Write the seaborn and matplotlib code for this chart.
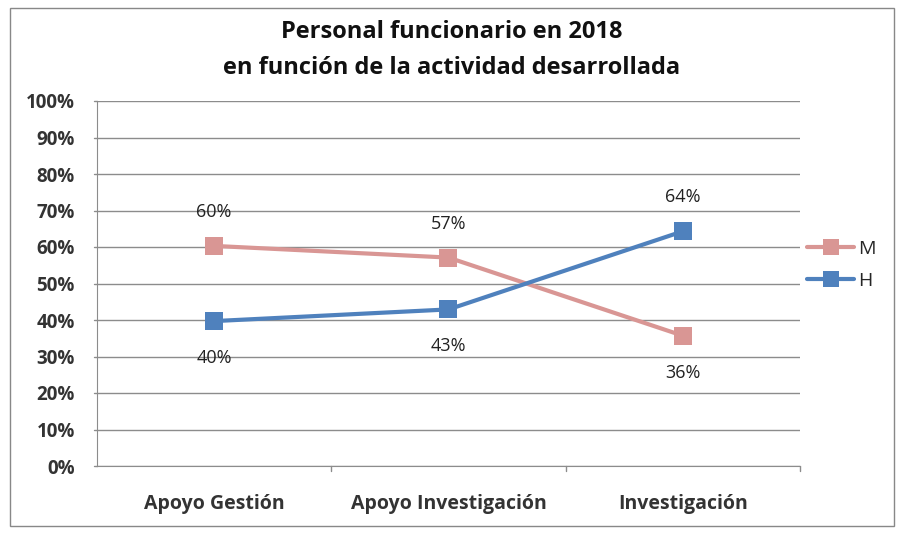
import pandas as pd
import numpy as np
import matplotlib
matplotlib.use("Agg")
import matplotlib.pyplot as plt
import seaborn as sns
from matplotlib.lines import Line2D
from matplotlib.patches import Rectangle

categories = ["Apoyo Gestión", "Apoyo Investigación", "Investigación"]
mujeres = [60.3, 57.1, 35.7]
hombres = [39.7, 42.9, 64.3]
series_names = ["M", "H"]
colors = {"M": "#D99694", "H": "#4F81BD"}

df = pd.DataFrame({
    "actividad": categories * 2,
    "valor": mujeres + hombres,
    "sexo": ["M"] * 3 + ["H"] * 3,
})
df["pos"] = df["actividad"].map({c: i for i, c in enumerate(categories)})

sns.set_style("white")
plt.rcParams["font.family"] = ["Open Sans", "DejaVu Sans"]

fig = plt.figure(figsize=(9.03, 5.40), dpi=100)
ax = fig.add_axes([97 / 903, 1 - 466 / 540, 703 / 903, 365 / 540])

sns.lineplot(data=df, x="pos", y="valor", hue="sexo", palette=colors,
             marker="s", markersize=13, markeredgewidth=0, linewidth=3,
             legend=False, ax=ax)

# data labels: larger value above, smaller below
for i in range(len(categories)):
    m, h = mujeres[i], hombres[i]
    for v in (m, h):
        above = v >= max(m, h)
        off = 34 if above else -37
        ax.annotate(f"{round(v):d}%", (i, v), xytext=(0, off), textcoords="offset pixels",
                    ha="center", va="center", fontsize=13, color="#222222")

ax.set_xlim(-0.5, 2.5)
ax.set_ylim(0, 100)
ax.set_yticks(np.arange(0, 101, 10))
ax.set_yticklabels([f"{t}%" for t in range(0, 101, 10)], fontsize=13.5,
                   fontweight="bold", color="#333333")
ax.set_xticks(range(len(categories)))
ax.set_xticklabels(categories, fontsize=14, fontweight="bold", color="#333333")
ax.set_xlabel("")
ax.set_ylabel("")
ax.yaxis.grid(True, color="#8c8c8c", linewidth=1)
ax.xaxis.grid(False)
ax.set_axisbelow(True)
for s in ["top", "right"]:
    ax.spines[s].set_visible(False)
ax.spines["left"].set_color("#8c8c8c")
ax.spines["bottom"].set_color("#8c8c8c")
ax.tick_params(axis="y", length=0, pad=16)
ax.tick_params(axis="x", length=0, pad=20)
# category separator ticks
for b in [0.5, 1.5, 2.5]:
    ax.plot([b, b], [0, -1.5], color="#8c8c8c", lw=1, clip_on=False)
for t in range(0, 101, 10):
    ax.plot([-0.5, -0.513], [t, t], color="#8c8c8c", lw=1, clip_on=False)

fig.text(0.5, 1 - 32 / 540, "Personal funcionario en 2018", ha="center", va="center",
         fontsize=17, fontweight="bold", color="#111111")
fig.text(0.5, 1 - 68 / 540, "en función de la actividad desarrollada", ha="center", va="center",
         fontsize=17, fontweight="bold", color="#111111")

handles = [Line2D([0], [0], color=colors[s], marker="s", markersize=11, lw=3,
                  markeredgewidth=0) for s in series_names]
fig.legend(handles, series_names, loc="center left", bbox_to_anchor=(790 / 903, 1 - 265 / 540),
           frameon=False, fontsize=14, handlelength=2.4, handletextpad=0.2, labelspacing=0.75)

fig.patches.append(Rectangle((10 / 903, 1 - 526 / 540), 884 / 903, 518 / 540,
                             transform=fig.transFigure, fill=False, edgecolor="#888888", lw=1))

fig.savefig("out.png", dpi=100)
